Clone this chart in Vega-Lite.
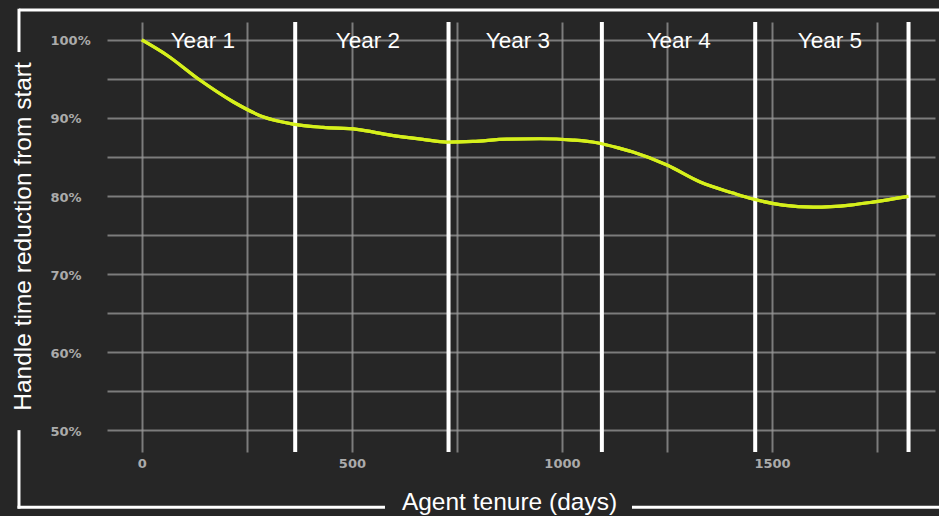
{
  "$schema": "https://vega.github.io/schema/vega-lite/v6.json",
  "width": 828,
  "height": 430,
  "autosize": {"type": "none"},
  "padding": {"left": 107, "top": 22, "right": 4, "bottom": 64},
  "background": "#262626",
  "config": {
    "view": {"stroke": null},
    "axis": {
      "domain": false,
      "ticks": false,
      "tickSize": 0,
      "gridColor": "#9a9a9a",
      "gridOpacity": 0.75,
      "gridWidth": 2,
      "labelFont": "DejaVu Sans",
      "labelFontWeight": "bold",
      "labelFontSize": 13,
      "labelColor": "#ababab",
      "titleFont": "Liberation Sans",
      "titleFontSize": 24.5,
      "titleFontWeight": "normal",
      "titleColor": "#ffffff"
    }
  },
  "datasets": {
    "curve": [
      {"day": 0, "pct": 100.0},
      {"day": 59, "pct": 98.07},
      {"day": 138, "pct": 94.86},
      {"day": 217, "pct": 92.08},
      {"day": 288, "pct": 90.16},
      {"day": 360, "pct": 89.22},
      {"day": 431, "pct": 88.8},
      {"day": 512, "pct": 88.54},
      {"day": 591, "pct": 87.81},
      {"day": 669, "pct": 87.26},
      {"day": 726, "pct": 86.92},
      {"day": 788, "pct": 87.0},
      {"day": 869, "pct": 87.3},
      {"day": 948, "pct": 87.34},
      {"day": 1026, "pct": 87.17},
      {"day": 1083, "pct": 86.83},
      {"day": 1138, "pct": 86.11},
      {"day": 1169, "pct": 85.63},
      {"day": 1250, "pct": 83.97},
      {"day": 1329, "pct": 81.79},
      {"day": 1407, "pct": 80.38},
      {"day": 1455, "pct": 79.61},
      {"day": 1526, "pct": 78.84},
      {"day": 1598, "pct": 78.58},
      {"day": 1686, "pct": 78.84},
      {"day": 1740, "pct": 79.22},
      {"day": 1825, "pct": 79.95}
    ],
    "years": [
      {"year": "Year 1", "end": 365, "labelDay": 145},
      {"year": "Year 2", "end": 730, "labelDay": 538},
      {"year": "Year 3", "end": 1095, "labelDay": 895},
      {"year": "Year 4", "end": 1460, "labelDay": 1278},
      {"year": "Year 5", "end": 1825, "labelDay": 1638}
    ],
    "one": [{}]
  },
  "layer": [
    {
      "data": {"name": "curve"},
      "mark": {"type": "line", "color": "#d6f01c", "strokeWidth": 3.2, "interpolate": "monotone"},
      "encoding": {
        "x": {
          "field": "day",
          "type": "quantitative",
          "scale": {"domain": [-83, 1888], "nice": false, "zero": false},
          "axis": {
            "values": [0, 250, 500, 750, 1000, 1250, 1500, 1750],
            "labelExpr": "(datum.value % 500 === 0 && datum.value <= 1500) ? datum.value : ''",
            "labelPadding": 5,
            "title": "Agent tenure (days)",
            "titleX": 402,
            "titleY": 57,
            "titleAlign": "center",
            "titleBaseline": "alphabetic"
          }
        },
        "y": {
          "field": "pct",
          "type": "quantitative",
          "scale": {"domain": [47.2, 102.3], "nice": false, "zero": false},
          "axis": {
            "values": [50, 55, 60, 65, 70, 75, 80, 85, 90, 95, 100],
            "labelExpr": "datum.value % 10 === 0 ? datum.value + '%' : ''",
            "labelAlign": "left",
            "labelPadding": 57,
            "labelBaseline": "middle",
            "labelOffset": 1,
            "title": "Handle time reduction from start",
            "titleAngle": -90,
            "titleX": -77,
            "titleY": 214,
            "titleAlign": "center",
            "titleBaseline": "alphabetic"
          }
        }
      }
    },
    {
      "data": {"name": "years"},
      "mark": {"type": "rule", "color": "#ffffff", "strokeWidth": 4},
      "encoding": {
        "x": {"field": "end", "type": "quantitative"}
      }
    },
    {
      "data": {"name": "curve"},
      "mark": {"type": "line", "color": "#d6f01c", "strokeWidth": 3.2, "interpolate": "monotone"},
      "encoding": {
        "x": {"field": "day", "type": "quantitative"},
        "y": {"field": "pct", "type": "quantitative"}
      }
    },
    {
      "data": {"name": "years"},
      "mark": {"type": "text", "color": "#ffffff", "font": "Liberation Sans", "fontSize": 22.5, "baseline": "alphabetic", "align": "center"},
      "encoding": {
        "x": {"field": "labelDay", "type": "quantitative"},
        "y": {"datum": 99.0, "type": "quantitative"},
        "text": {"field": "year"}
      }
    },
    {
      "data": {"name": "one"},
      "mark": {"type": "rule", "color": "#ffffff", "strokeWidth": 3},
      "encoding": {
        "x": {"datum": -292.5, "type": "quantitative"},
        "x2": {"datum": 1900},
        "y": {"datum": 103.84, "type": "quantitative"}
      }
    },
    {
      "data": {"name": "one"},
      "mark": {"type": "rule", "color": "#ffffff", "strokeWidth": 3},
      "encoding": {
        "x": {"datum": -292.5, "type": "quantitative"},
        "y": {"datum": 104.0, "type": "quantitative"},
        "y2": {"datum": 98.45}
      }
    },
    {
      "data": {"name": "one"},
      "mark": {"type": "rule", "color": "#ffffff", "strokeWidth": 3},
      "encoding": {
        "x": {"datum": -292.5, "type": "quantitative"},
        "y": {"datum": 50.0, "type": "quantitative"},
        "y2": {"datum": 39.95}
      }
    },
    {
      "data": {"name": "one"},
      "mark": {"type": "rule", "color": "#ffffff", "strokeWidth": 3},
      "encoding": {
        "x": {"datum": -296, "type": "quantitative"},
        "x2": {"datum": 578.7},
        "y": {"datum": 40.12, "type": "quantitative"}
      }
    },
    {
      "data": {"name": "one"},
      "mark": {"type": "rule", "color": "#ffffff", "strokeWidth": 3},
      "encoding": {
        "x": {"datum": 1166.7, "type": "quantitative"},
        "x2": {"datum": 1900},
        "y": {"datum": 40.12, "type": "quantitative"}
      }
    }
  ]
}
